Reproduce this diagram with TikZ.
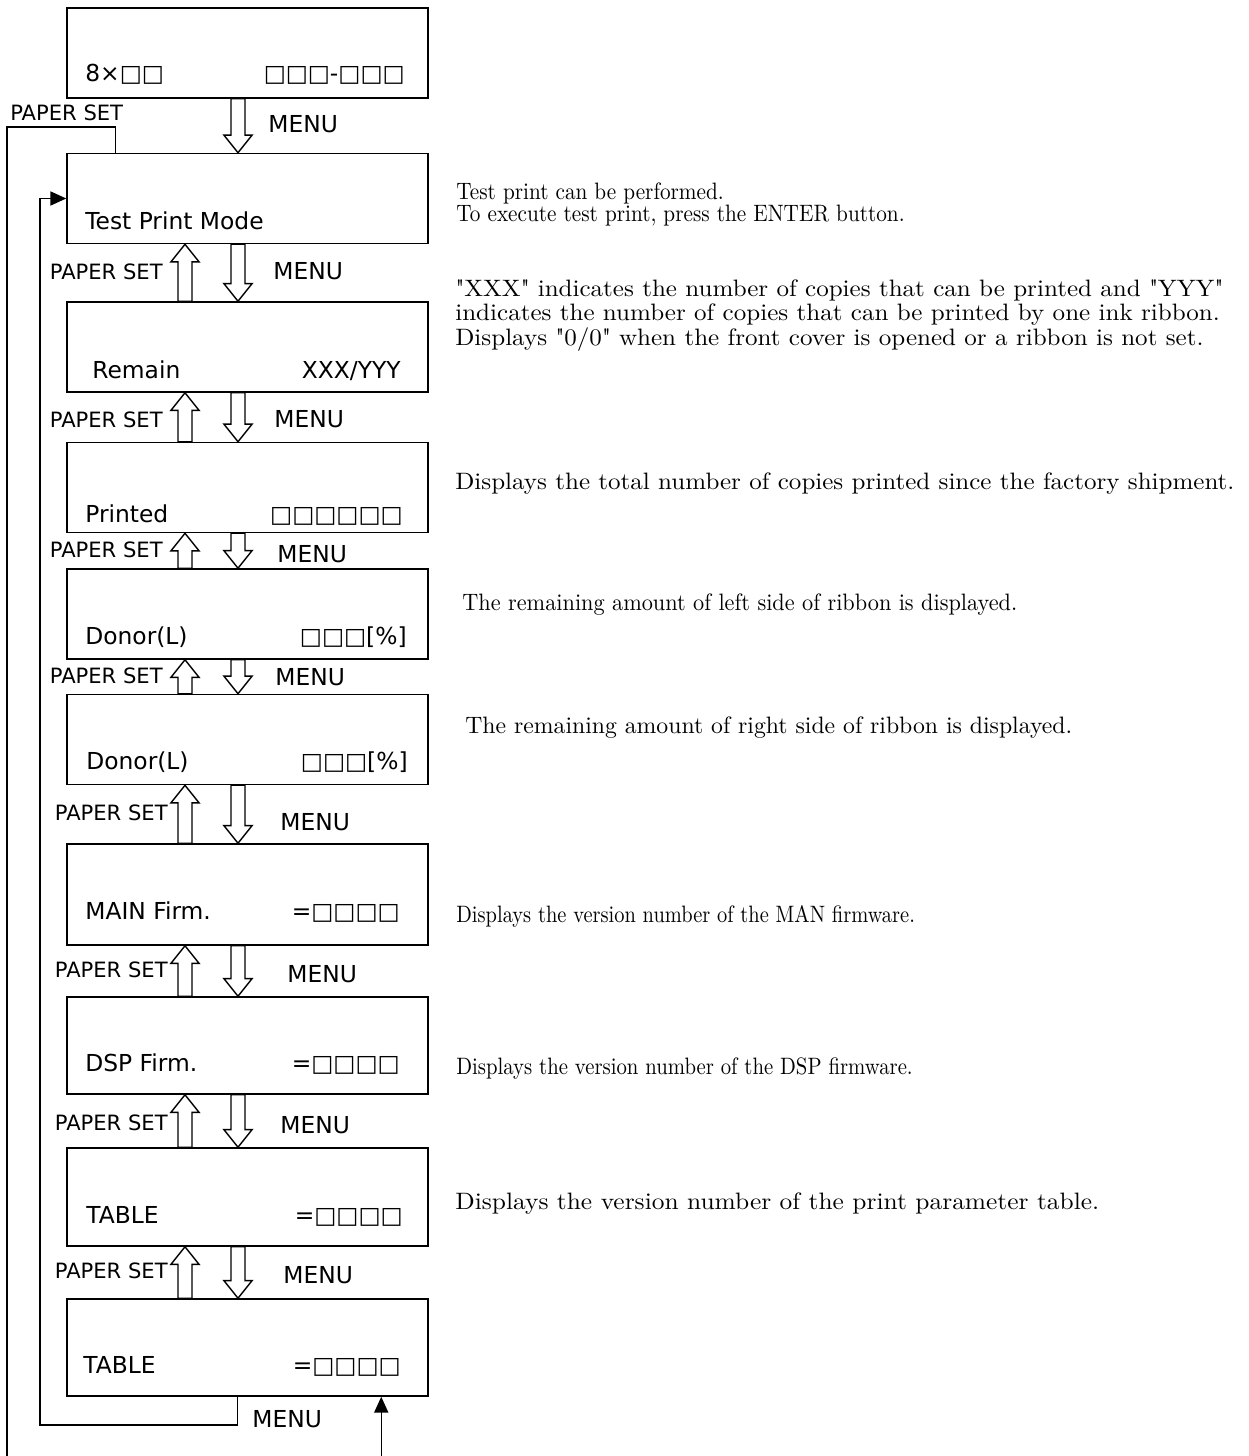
\documentclass[tikz,border=0pt]{standalone}
\usepackage{fontspec}
\newfontfamily\lcdfont{DejaVu Sans}
\newfontfamily\notefont{lmroman10-regular.otf}
\usepackage{tikz}
\usetikzlibrary{arrows.meta, calc, positioning}

% hollow block arrow, tail at #1, tip at #2 (vertical)
\newcommand{\hollowarrow}[2]{%
  \draw[hollow] let \p1=(#1), \p2=(#2), \n1={sign(\y2-\y1)} in
    ({\x1-4pt},\y1) -- ({\x1-4pt},{\y2-(\n1)*10pt}) -- ({\x1-8pt},{\y2-(\n1)*10pt})
    -- (\x1,\y2) -- ({\x1+8pt},{\y2-(\n1)*10pt}) -- ({\x1+4pt},{\y2-(\n1)*10pt})
    -- ({\x1+4pt},\y1) -- cycle;}

\begin{document}
\begin{tikzpicture}[x=0.02cm, y=-0.02cm,
		panel/.style={draw, line width=0.9pt, minimum width=7.22cm, minimum height=1.8cm, inner sep=0pt},
		lcd/.style={font=\lcdfont\fontsize{13.3}{15}\selectfont, inner sep=0pt},
		btn/.style={font=\lcdfont\fontsize{12}{14}\selectfont, inner sep=0pt},
		menu/.style={btn, font=\lcdfont\fontsize{13.3}{15}\selectfont, anchor=base west},
		note/.style 2 args={anchor=base west, align=left, inner sep=0pt,
			font=\notefont\fontsize{13.5}{#2}\selectfont\addfontfeature{FakeStretch=#1}},
		hollow/.style={draw, fill=white, line width=0.8pt, line join=miter},
		backline/.style={draw, line width=0.85pt, -{Triangle[length=9pt,width=8pt]}}
		]
	\useasboundingbox (0,0) rectangle (1248,1456);
	\clip (0,0) rectangle (1248,1456);

	% display panels
	\node[panel] (start) at (247.5,53) {};
	\node[panel] (test) at (247.5,198.5) {};
	\node[panel] (remain) at (247.5,347) {};
	\node[panel] (printed) at (247.5,487.5) {};
	\node[panel] (donorl) at (247.5,614) {};
	\node[panel] (donorr) at (247.5,739.5) {};
	\node[panel, minimum height=2.02cm] (mainf) at (247.5,894.5) {};
	\node[panel, minimum height=1.94cm] (dspf) at (247.5,1045.5) {};
	\node[panel, minimum height=1.96cm] (table) at (247.5,1197) {};
	\node[panel, minimum height=1.94cm] (tablee) at (247.5,1347.5) {};

	% panel texts
	\node[lcd, anchor=base west] (startl) at (85,82) {8×□□};
	\node[lcd, anchor=base east] (startr) at (405,82) {□□□-□□□};
	\node[lcd, anchor=base west] (testl) at (85,230) {Test Print Mode};
	\node[lcd, anchor=base west] (remainl) at (92,378) {Remain};
	\node[lcd, anchor=base east] (remainr) at (401,378) {XXX/YYY};
	\node[lcd, anchor=base west] (printedl) at (85,522) {Printed};
	\node[lcd, anchor=base east] (printedr) at (403,522) {□□□□□□};
	\node[lcd, anchor=base west] (donorll) at (85,644) {Donor(L)};
	\node[lcd, anchor=base east] (donorlr) at (407,644) {□□□[\%]};
	\node[lcd, anchor=base west] (donorrl) at (86,769) {Donor(L)};
	\node[lcd, anchor=base east] (donorrr) at (408,769) {□□□[\%]};
	\node[lcd, anchor=base west] (mainfl) at (85,919) {MAIN Firm.};
	\node[lcd, anchor=base east] (mainfr) at (400,919) {=□□□□};
	\node[lcd, anchor=base west] (dspfl) at (85,1071) {DSP Firm.};
	\node[lcd, anchor=base east] (dspfr) at (400,1071) {=□□□□};
	\node[lcd, anchor=base west] (tablel) at (86,1223) {TABLE};
	\node[lcd, anchor=base east] (tabler) at (403,1223) {=□□□□};
	\node[lcd, anchor=base west] (tableel) at (83,1373) {TABLE};
	\node[lcd, anchor=base east] (tableer) at (401,1373) {=□□□□};

	% button arrows
	\coordinate (up) at (185,0);
	\coordinate (dn) at (238,0);
	\hollowarrow{start.south -| dn}{test.north -| dn}
	\hollowarrow{test.south -| dn}{remain.north -| dn}
	\hollowarrow{remain.north -| up}{test.south -| up}
	\hollowarrow{remain.south -| dn}{printed.north -| dn}
	\hollowarrow{printed.north -| up}{remain.south -| up}
	\hollowarrow{printed.south -| dn}{donorl.north -| dn}
	\hollowarrow{donorl.north -| up}{printed.south -| up}
	\hollowarrow{donorl.south -| dn}{donorr.north -| dn}
	\hollowarrow{donorr.north -| up}{donorl.south -| up}
	\hollowarrow{donorr.south -| dn}{mainf.north -| dn}
	\hollowarrow{mainf.north -| up}{donorr.south -| up}
	\hollowarrow{mainf.south -| dn}{dspf.north -| dn}
	\hollowarrow{dspf.north -| up}{mainf.south -| up}
	\hollowarrow{dspf.south -| dn}{table.north -| dn}
	\hollowarrow{table.north -| up}{dspf.south -| up}
	\hollowarrow{table.south -| dn}{tablee.north -| dn}
	\hollowarrow{tablee.north -| up}{table.south -| up}

	% button labels
	\node[btn, anchor=base west] (ps0) at (10,121) {PAPER SET};
	\node[menu] (mn0) at (268,133) {MENU};
	\node[btn, anchor=base east] (ps1) at (163,280) {PAPER SET};
	\node[menu] (mn1) at (273,280) {MENU};
	\node[btn, anchor=base east] (ps2) at (163,427) {PAPER SET};
	\node[menu] (mn2) at (274,427) {MENU};
	\node[btn, anchor=base east] (ps3) at (163,557) {PAPER SET};
	\node[menu] (mn3) at (277,562) {MENU};
	\node[btn, anchor=base east] (ps4) at (163,683) {PAPER SET};
	\node[menu] (mn4) at (275,685) {MENU};
	\node[btn, anchor=base east] (ps5) at (168,820) {PAPER SET};
	\node[menu] (mn5) at (280,830) {MENU};
	\node[btn, anchor=base east] (ps6) at (168,977) {PAPER SET};
	\node[menu] (mn6) at (287,982) {MENU};
	\node[btn, anchor=base east] (ps7) at (168,1130) {PAPER SET};
	\node[menu] (mn7) at (280,1133) {MENU};
	\node[btn, anchor=base east] (ps8) at (168,1278) {PAPER SET};
	\node[menu] (mn8) at (283,1283) {MENU};
	\node[menu] (mn9) at (252,1427) {MENU};

	% return lines
	\draw[backline] ($(test.north west)+(49.5,0)$) |- (7,127) -- (7,1500) -| ($(tablee.south west)+(315,0)$);
	\draw[backline] ($(tablee.south west)+(171,0)$) |- (40,1425) |- (test.west);

	% explanations (base = last line)
	\node[note={0.895}{12.8}] (n2) at (456,222) {Test print can be performed.\\To execute test print, press the ENTER button.};
	\node[note={1.056}{13.9}] (n3) at (455,345) {\textquotedbl XXX\textquotedbl{} indicates the number of copies that can be printed and \textquotedbl YYY\textquotedbl\\indicates the number of copies that can be printed by one ink ribbon.\\Displays \textquotedbl 0/0\textquotedbl{} when the front cover is opened or a ribbon is not set.};
	\node[note={1.055}{15}] (n4) at (455,489) {Displays the total number of copies printed since the factory shipment.};
	\node[note={0.939}{15}] (n5) at (462,610) {The remaining amount of left side of ribbon is displayed.};
	\node[note={1.0}{15}] (n6) at (465,733) {The remaining amount of right side of ribbon is displayed.};
	\node[note={0.862}{15}] (n7) at (456,922) {Displays the version number of the MAN firmware.};
	\node[note={0.874}{15}] (n8) at (456,1074) {Displays the version number of the DSP firmware.};
	\node[note={1.072}{15}] (n9) at (455,1209) {Displays the version number of the print parameter table.};

\end{tikzpicture}
\end{document}
